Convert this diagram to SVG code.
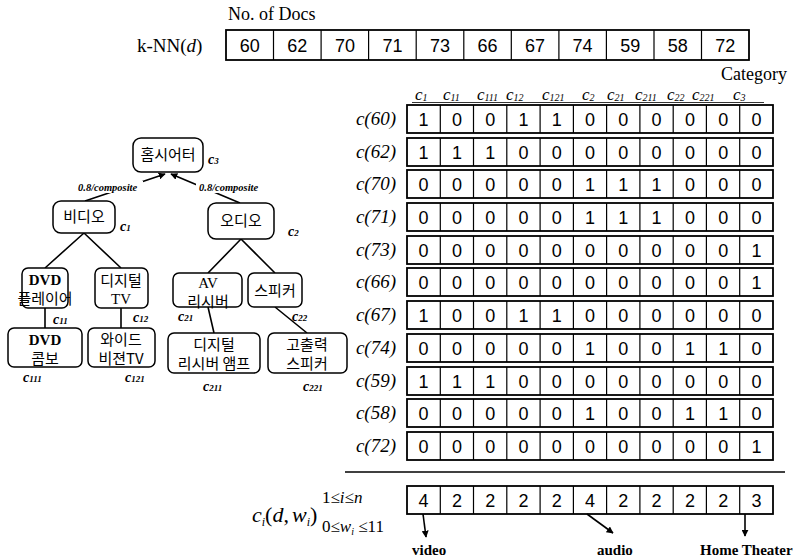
<svg xmlns="http://www.w3.org/2000/svg" xmlns:xlink="http://www.w3.org/1999/xlink" width="799" height="560" viewBox="0 0 799 560">
  <style>
    .serif { font-family: "Liberation Serif", "Times New Roman", serif; fill: #000; }
    .num { font-family: "Liberation Sans", Arial, sans-serif; font-size: 18px; text-anchor: middle; fill: #000; }
    .rowlbl { font-family: "Liberation Serif", serif; font-style: italic; font-size: 19px; text-anchor: end; fill: #000; }
    .hdr { font-family: "Liberation Serif", serif; font-style: italic; font-size: 17px; fill: #000; }
    .cat { font-family: "Liberation Serif", serif; font-style: italic; font-weight: bold; font-size: 14px; fill: #000; }
    .kr { font-family: "Noto Sans CJK KR", "Noto Sans", sans-serif; font-size: 15px; text-anchor: middle; fill: #000; }
    .lt { font-family: "Liberation Serif", serif; font-size: 15px; text-anchor: middle; fill: #000; }
    .node { fill: #fff; stroke: #000; stroke-width: 1.5; }
    .edge { stroke: #000; stroke-width: 1.6; fill: none; }
    .frame { fill: #fff; stroke: #000; stroke-width: 1.8; }
    .div { stroke: #000; stroke-width: 1.2; }
    .elbl { font-family: "Liberation Serif", serif; font-style: italic; font-weight: bold; font-size: 10.5px; fill: #000; }
    .blbl { font-family: "Liberation Serif", serif; font-weight: bold; font-size: 15px; fill: #000; }
  </style>
  <defs>
    <marker id="ah" viewBox="0 0 10 10" refX="9" refY="5" markerWidth="7" markerHeight="7" orient="auto" markerUnits="userSpaceOnUse">
      <path d="M0,0 L10,5 L0,10 z" fill="#000"/>
    </marker>
    <!-- one matrix row: outer frame with 11 cells -->
    <g id="rowframe">
      <rect class="frame" x="407" y="0" width="366" height="28"/>
      <path class="div" d="M440.3,0V28M473.5,0V28M506.8,0V28M540.1,0V28M573.4,0V28M606.6,0V28M639.9,0V28M673.2,0V28M706.4,0V28M739.7,0V28"/>
    </g>
  </defs>

  <rect width="799" height="560" fill="#fff"/>

  <!-- k-NN document list -->
  <g id="knn">
    <text class="serif" x="228" y="20" font-size="18">No. of Docs</text>
    <text class="serif" x="137" y="52" font-size="19">k-NN(<tspan font-style="italic">d</tspan>)</text>
    <rect class="frame" x="226" y="30" width="523" height="30"/>
    <path class="div" d="M273.5,30V60M321.1,30V60M368.6,30V60M416.2,30V60M463.8,30V60M511.3,30V60M558.9,30V60M606.4,30V60M654,30V60M701.5,30V60"/>
    <g class="num">
      <text x="249.8" y="52">60</text><text x="297.3" y="52">62</text><text x="344.9" y="52">70</text>
      <text x="392.4" y="52">71</text><text x="440" y="52">73</text><text x="487.5" y="52">66</text>
      <text x="535.1" y="52">67</text><text x="582.6" y="52">74</text><text x="630.2" y="52">59</text>
      <text x="677.7" y="52">58</text><text x="725.3" y="52">72</text>
    </g>
  </g>

  <!-- category header -->
  <g id="header">
    <text class="serif" x="787" y="80" font-size="18" text-anchor="end">Category</text>
    <g class="hdr">
      <text x="415" y="100">c<tspan font-size="10" dy="1">1</tspan></text>
      <text x="443" y="100">c<tspan font-size="10" dy="1">11</tspan></text>
      <text x="477" y="100">c<tspan font-size="10" dy="1">111</tspan></text>
      <text x="506" y="100">c<tspan font-size="10" dy="1">12</tspan></text>
      <text x="542" y="100">c<tspan font-size="10" dy="1">121</tspan></text>
      <text x="582" y="100">c<tspan font-size="10" dy="1">2</tspan></text>
      <text x="607" y="100">c<tspan font-size="10" dy="1">21</tspan></text>
      <text x="635" y="100">c<tspan font-size="10" dy="1">211</tspan></text>
      <text x="667" y="100">c<tspan font-size="10" dy="1">22</tspan></text>
      <text x="692" y="100">c<tspan font-size="10" dy="1">221</tspan></text>
      <text x="733" y="100">c<tspan font-size="10" dy="1">3</tspan></text>
    </g>
    <line x1="412" y1="102.5" x2="764" y2="102.5" stroke="#000" stroke-width="0.8"/>
  </g>

  <!-- category membership matrix -->
  <g id="matrix">
    <use xlink:href="#rowframe" y="105"/>
    <use xlink:href="#rowframe" y="138"/>
    <use xlink:href="#rowframe" y="170"/>
    <use xlink:href="#rowframe" y="203"/>
    <use xlink:href="#rowframe" y="236"/>
    <use xlink:href="#rowframe" y="268"/>
    <use xlink:href="#rowframe" y="301"/>
    <use xlink:href="#rowframe" y="334"/>
    <use xlink:href="#rowframe" y="367"/>
    <use xlink:href="#rowframe" y="399"/>
    <use xlink:href="#rowframe" y="432"/>
    <g class="rowlbl">
      <text x="396" y="125">c(60)</text>
      <text x="396" y="158">c(62)</text>
      <text x="396" y="190">c(70)</text>
      <text x="396" y="223">c(71)</text>
      <text x="396" y="256">c(73)</text>
      <text x="396" y="288">c(66)</text>
      <text x="396" y="321">c(67)</text>
      <text x="396" y="354">c(74)</text>
      <text x="396" y="387">c(59)</text>
      <text x="396" y="419">c(58)</text>
      <text x="396" y="452">c(72)</text>
    </g>
    <g class="num">
      <text y="126"><tspan x="423.6">1</tspan><tspan x="456.9">0</tspan><tspan x="490.2">0</tspan><tspan x="523.5">1</tspan><tspan x="556.8">1</tspan><tspan x="590">0</tspan><tspan x="623.3">0</tspan><tspan x="656.6">0</tspan><tspan x="689.9">0</tspan><tspan x="723.2">0</tspan><tspan x="756.5">0</tspan></text>
      <text y="159"><tspan x="423.6">1</tspan><tspan x="456.9">1</tspan><tspan x="490.2">1</tspan><tspan x="523.5">0</tspan><tspan x="556.8">0</tspan><tspan x="590">0</tspan><tspan x="623.3">0</tspan><tspan x="656.6">0</tspan><tspan x="689.9">0</tspan><tspan x="723.2">0</tspan><tspan x="756.5">0</tspan></text>
      <text y="191"><tspan x="423.6">0</tspan><tspan x="456.9">0</tspan><tspan x="490.2">0</tspan><tspan x="523.5">0</tspan><tspan x="556.8">0</tspan><tspan x="590">1</tspan><tspan x="623.3">1</tspan><tspan x="656.6">1</tspan><tspan x="689.9">0</tspan><tspan x="723.2">0</tspan><tspan x="756.5">0</tspan></text>
      <text y="224"><tspan x="423.6">0</tspan><tspan x="456.9">0</tspan><tspan x="490.2">0</tspan><tspan x="523.5">0</tspan><tspan x="556.8">0</tspan><tspan x="590">1</tspan><tspan x="623.3">1</tspan><tspan x="656.6">1</tspan><tspan x="689.9">0</tspan><tspan x="723.2">0</tspan><tspan x="756.5">0</tspan></text>
      <text y="257"><tspan x="423.6">0</tspan><tspan x="456.9">0</tspan><tspan x="490.2">0</tspan><tspan x="523.5">0</tspan><tspan x="556.8">0</tspan><tspan x="590">0</tspan><tspan x="623.3">0</tspan><tspan x="656.6">0</tspan><tspan x="689.9">0</tspan><tspan x="723.2">0</tspan><tspan x="756.5">1</tspan></text>
      <text y="289"><tspan x="423.6">0</tspan><tspan x="456.9">0</tspan><tspan x="490.2">0</tspan><tspan x="523.5">0</tspan><tspan x="556.8">0</tspan><tspan x="590">0</tspan><tspan x="623.3">0</tspan><tspan x="656.6">0</tspan><tspan x="689.9">0</tspan><tspan x="723.2">0</tspan><tspan x="756.5">1</tspan></text>
      <text y="322"><tspan x="423.6">1</tspan><tspan x="456.9">0</tspan><tspan x="490.2">0</tspan><tspan x="523.5">1</tspan><tspan x="556.8">1</tspan><tspan x="590">0</tspan><tspan x="623.3">0</tspan><tspan x="656.6">0</tspan><tspan x="689.9">0</tspan><tspan x="723.2">0</tspan><tspan x="756.5">0</tspan></text>
      <text y="355"><tspan x="423.6">0</tspan><tspan x="456.9">0</tspan><tspan x="490.2">0</tspan><tspan x="523.5">0</tspan><tspan x="556.8">0</tspan><tspan x="590">1</tspan><tspan x="623.3">0</tspan><tspan x="656.6">0</tspan><tspan x="689.9">1</tspan><tspan x="723.2">1</tspan><tspan x="756.5">0</tspan></text>
      <text y="388"><tspan x="423.6">1</tspan><tspan x="456.9">1</tspan><tspan x="490.2">1</tspan><tspan x="523.5">0</tspan><tspan x="556.8">0</tspan><tspan x="590">0</tspan><tspan x="623.3">0</tspan><tspan x="656.6">0</tspan><tspan x="689.9">0</tspan><tspan x="723.2">0</tspan><tspan x="756.5">0</tspan></text>
      <text y="420"><tspan x="423.6">0</tspan><tspan x="456.9">0</tspan><tspan x="490.2">0</tspan><tspan x="523.5">0</tspan><tspan x="556.8">0</tspan><tspan x="590">1</tspan><tspan x="623.3">0</tspan><tspan x="656.6">0</tspan><tspan x="689.9">1</tspan><tspan x="723.2">1</tspan><tspan x="756.5">0</tspan></text>
      <text y="453"><tspan x="423.6">0</tspan><tspan x="456.9">0</tspan><tspan x="490.2">0</tspan><tspan x="523.5">0</tspan><tspan x="556.8">0</tspan><tspan x="590">0</tspan><tspan x="623.3">0</tspan><tspan x="656.6">0</tspan><tspan x="689.9">0</tspan><tspan x="723.2">0</tspan><tspan x="756.5">1</tspan></text>
    </g>
    <line x1="345" y1="472" x2="785" y2="472" stroke="#000" stroke-width="1.6"/>
  </g>

  <!-- summed weights per category -->
  <g id="weights">
    <text class="serif" x="252" y="522" font-size="22" font-style="italic">c<tspan font-size="12" dy="4">i</tspan><tspan dy="-4" font-style="normal">(</tspan>d<tspan font-style="normal">,</tspan><tspan dx="3">w</tspan><tspan font-size="12" dy="4">i</tspan><tspan dy="-4" font-style="normal">)</tspan></text>
    <text class="serif" x="322" y="503" font-size="17">1≤<tspan font-style="italic">i</tspan>≤<tspan font-style="italic">n</tspan></text>
    <text class="serif" x="322" y="532" font-size="17">0≤<tspan font-style="italic">w</tspan><tspan font-size="10" dy="3" font-style="italic">i</tspan><tspan dy="-3"> ≤11</tspan></text>
    <use xlink:href="#rowframe" y="486"/>
    <text class="num" y="507"><tspan x="423.6">4</tspan><tspan x="456.9">2</tspan><tspan x="490.2">2</tspan><tspan x="523.5">2</tspan><tspan x="556.8">2</tspan><tspan x="590">4</tspan><tspan x="623.3">2</tspan><tspan x="656.6">2</tspan><tspan x="689.9">2</tspan><tspan x="723.2">2</tspan><tspan x="756.5">3</tspan></text>
    <line class="edge" x1="423" y1="514" x2="426" y2="537" stroke-width="1.3" marker-end="url(#ah)"/>
    <line class="edge" x1="587" y1="514" x2="613" y2="533" stroke-width="1.3" marker-end="url(#ah)"/>
    <line class="edge" x1="745" y1="514" x2="745" y2="536" stroke-width="1.3" marker-end="url(#ah)"/>
    <text class="blbl" x="412" y="555">video</text>
    <text class="blbl" x="597" y="555">audio</text>
    <text class="blbl" x="700" y="555">Home Theater</text>
  </g>

  <!-- category hierarchy edges -->
  <g id="edges">
    <line class="edge" x1="85" y1="201" x2="165" y2="174" marker-end="url(#ah)"/>
    <line class="edge" x1="240" y1="203" x2="171" y2="174" marker-end="url(#ah)"/>
    <rect x="97" y="181" width="46" height="12" fill="#fff"/>
    <rect x="196" y="181" width="38" height="12" fill="#fff"/>
    <text class="elbl" x="78" y="191">0.8/composite</text>
    <text class="elbl" x="199" y="191">0.8/composite</text>
    <path class="edge" d="M84,233L45,268M84,233L121,268"/>
    <path class="edge" d="M241,239L208,273M241,239L275,273"/>
    <path class="edge" d="M45,308V328M121,308V328"/>
    <path class="edge" d="M208,307L214,333M275,307L307,333"/>
  </g>

  <!-- hierarchy nodes -->
  <g id="n-c3">
    <rect class="node" x="133" y="138" width="70" height="34" rx="8"/>
    <text class="kr" x="168" y="160">홈시어터</text>
    <text class="cat" x="208" y="164">c<tspan font-size="9">3</tspan></text>
  </g>
  <g id="n-c1">
    <rect class="node" x="53" y="201" width="62" height="32" rx="8"/>
    <text class="kr" x="84" y="222">비디오</text>
    <text class="cat" x="120" y="231">c<tspan font-size="9">1</tspan></text>
  </g>
  <g id="n-c2">
    <rect class="node" x="208" y="203" width="66" height="36" rx="8"/>
    <text class="kr" x="241" y="226">오디오</text>
    <text class="cat" x="288" y="236">c<tspan font-size="9">2</tspan></text>
  </g>
  <g id="n-c11">
    <rect class="node" x="22" y="268" width="46" height="40" rx="6"/>
    <text class="lt" x="45" y="285" font-weight="bold">DVD</text>
    <text class="kr" x="45" y="304">플레이어</text>
    <text class="cat" x="53" y="324">c<tspan font-size="9">11</tspan></text>
  </g>
  <g id="n-c12">
    <rect class="node" x="95" y="268" width="53" height="40" rx="6"/>
    <text class="kr" x="121" y="286">디지털</text>
    <text class="lt" x="121" y="304">TV</text>
    <text class="cat" x="133" y="322">c<tspan font-size="9">12</tspan></text>
  </g>
  <g id="n-c111">
    <rect class="node" x="8" y="328" width="74" height="39" rx="6"/>
    <text class="lt" x="45" y="345" font-weight="bold">DVD</text>
    <text class="kr" x="45" y="364">콤보</text>
    <text class="cat" x="23" y="382">c<tspan font-size="9">111</tspan></text>
  </g>
  <g id="n-c121">
    <rect class="node" x="88" y="328" width="67" height="39" rx="6"/>
    <text class="kr" x="121" y="345">와이드</text>
    <text class="kr" x="121" y="364">비젼TV</text>
    <text class="cat" x="125" y="382">c<tspan font-size="9">121</tspan></text>
  </g>
  <g id="n-c21">
    <rect class="node" x="173" y="273" width="69" height="34" rx="6"/>
    <text class="lt" x="208" y="288">AV</text>
    <text class="kr" x="208" y="307">리시버</text>
    <text class="cat" x="178" y="321">c<tspan font-size="9">21</tspan></text>
  </g>
  <g id="n-c22">
    <rect class="node" x="248" y="273" width="54" height="34" rx="6"/>
    <text class="kr" x="275" y="296">스피커</text>
    <text class="cat" x="292" y="321">c<tspan font-size="9">22</tspan></text>
  </g>
  <g id="n-c211">
    <rect class="node" x="168" y="333" width="92" height="40" rx="6"/>
    <text class="kr" x="214" y="350">디지털</text>
    <text class="kr" x="214" y="369">리시버 앰프</text>
    <text class="cat" x="203" y="391">c<tspan font-size="9">211</tspan></text>
  </g>
  <g id="n-c221">
    <rect class="node" x="268" y="333" width="79" height="40" rx="6"/>
    <text class="kr" x="307" y="350">고출력</text>
    <text class="kr" x="307" y="369">스피커</text>
    <text class="cat" x="303" y="391">c<tspan font-size="9">221</tspan></text>
  </g>
</svg>
